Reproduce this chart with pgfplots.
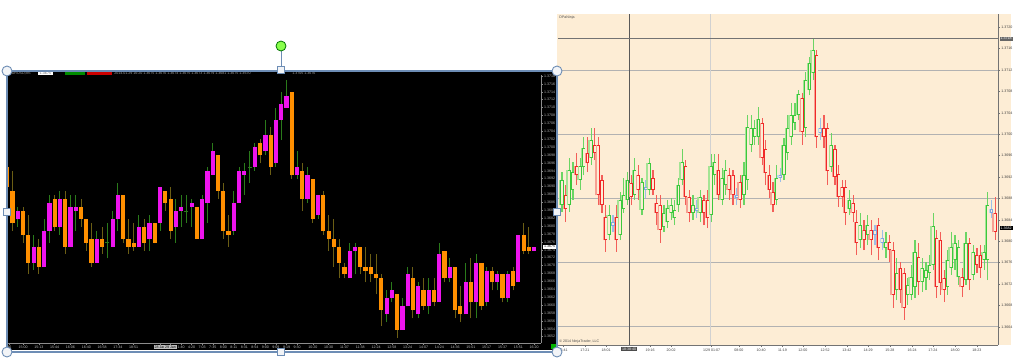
\documentclass[border=0pt]{standalone}
\usepackage{fontspec}
\setmainfont{Liberation Sans}
\usepackage{pgfplots}
\usepackage{pgfplotstable}
\pgfplotsset{compat=1.18}
\definecolor{mtorange}{HTML}{FF8F00}
\definecolor{mtmagenta}{HTML}{EE14EE}
\definecolor{mtwickg}{HTML}{2A7A1A}
\definecolor{mtwicko}{HTML}{6B5E14}
\definecolor{ntcream}{HTML}{FDEDD5}
\definecolor{ntgreen}{HTML}{3CC83C}
\definecolor{ntgreenl}{HTML}{A4E494}
\definecolor{ntred}{HTML}{F02828}
\definecolor{ntredl}{HTML}{F7A092}
\definecolor{ntblue}{HTML}{7FA8E0}
\definecolor{ntbluel}{HTML}{C0D8F2}
\definecolor{hframe}{HTML}{6D8DB5}
\definecolor{hfill}{HTML}{F2F4F7}
\newcommand{\tinyf}{\fontsize{1.8}{2.1}\selectfont}
\pgfplotsset{
  candle/.style={draw=none, mark=none, forget plot,
    error bars/.cd, y dir=plus, y explicit, error mark=none,
    error bar style={line width=#1}},
}

\pgfplotstableread{
i t o h l c
1 -1 1.369504 1.369598 1.368914 1.368982
2 -1 1.368896 1.369403 1.367884 1.368071
3 1 1.368180 1.368484 1.367985 1.368390
4 -1 1.368390 1.368491 1.367580 1.367775
5 -1 1.367782 1.368281 1.366787 1.367074
6 1 1.367074 1.367775 1.366889 1.367479
7 -1 1.367479 1.367674 1.366787 1.366972
8 1 1.366972 1.368180 1.366972 1.367876
9 1 1.367876 1.368787 1.367572 1.368592
10 -1 1.368694 1.368787 1.367876 1.367977
11 1 1.367977 1.368889 1.367775 1.368694
12 -1 1.368694 1.368889 1.367294 1.367479
13 1 1.367479 1.368787 1.367479 1.368491
14 1 1.368390 1.368787 1.367884 1.368491
15 -1 1.368491 1.368686 1.367985 1.368180
16 -1 1.368180 1.368180 1.367377 1.367580
17 -1 1.367681 1.368079 1.366972 1.367074
18 1 1.367074 1.367876 1.367074 1.367681
19 -1 1.367681 1.367977 1.367294 1.367479
20 0 1.367580 1.368079 1.367185 1.367580
21 1 1.367479 1.368390 1.367479 1.368180
22 1 1.368180 1.369091 1.367884 1.368787
23 -1 1.368787 1.368787 1.367580 1.367681
24 -1 1.367681 1.368180 1.367294 1.367479
25 -1 1.367580 1.368079 1.367377 1.367479
26 1 1.367479 1.368281 1.367479 1.367977
27 -1 1.367985 1.368180 1.367370 1.367580
28 1 1.367681 1.368281 1.367370 1.368079
29 -1 1.368079 1.368079 1.367565 1.367580
30 1 1.368079 1.368990 1.367876 1.368990
31 -1 1.368889 1.368889 1.368382 1.368585
32 -1 1.368686 1.368990 1.367681 1.367876
33 1 1.367985 1.368686 1.367580 1.368382
34 1 1.368382 1.368787 1.367985 1.368484
35 0 1.368382 1.368787 1.368079 1.368382
36 1 1.368484 1.368686 1.367985 1.368585
37 -1 1.368484 1.368484 1.367681 1.367681
38 1 1.367681 1.368787 1.367681 1.368686
39 1 1.368585 1.369496 1.368079 1.369395
40 1 1.369294 1.370096 1.369294 1.369894
41 -1 1.369792 1.369792 1.368686 1.368889
42 -1 1.368889 1.369091 1.367681 1.367876
43 -1 1.367876 1.368281 1.367479 1.367775
44 1 1.367876 1.368889 1.367775 1.368585
45 1 1.368585 1.369496 1.368585 1.369395
46 1 1.369294 1.369590 1.368787 1.369395
47 0 1.369496 1.369894 1.369091 1.369496
48 1 1.369496 1.370096 1.369395 1.369995
49 -1 1.370096 1.370198 1.369590 1.369792
50 1 1.369894 1.370694 1.369792 1.370299
51 -1 1.370299 1.370501 1.369294 1.369496
52 1 1.369590 1.370997 1.369504 1.370694
53 1 1.370686 1.371387 1.370180 1.371084
54 1 1.370997 1.371686 1.370997 1.371294
55 -1 1.371395 1.371395 1.369192 1.369286
56 1 1.369286 1.369894 1.369192 1.369496
57 -1 1.369395 1.369590 1.368382 1.368686
58 1 1.368686 1.369496 1.368585 1.369286
59 -1 1.369192 1.369192 1.368079 1.368180
60 1 1.368281 1.368787 1.368180 1.368787
61 -1 1.368787 1.368889 1.367775 1.367876
62 -1 1.367876 1.368281 1.367377 1.367681
63 -1 1.367681 1.368180 1.366972 1.367479
64 -1 1.367479 1.367681 1.366679 1.367074
65 -1 1.366972 1.367074 1.366679 1.366780
66 1 1.366679 1.367580 1.366679 1.367377
67 1 1.367377 1.367580 1.366780 1.367479
68 -1 1.367479 1.367479 1.366780 1.366972
69 -1 1.366972 1.367479 1.366577 1.366871
70 -1 1.366972 1.367286 1.366577 1.366780
71 -1 1.366780 1.367286 1.366274 1.366679
72 -1 1.366679 1.366780 1.365471 1.365876
73 1 1.365767 1.366375 1.365565 1.366172
74 1 1.366172 1.366577 1.366071 1.366375
75 -1 1.366274 1.366274 1.365167 1.365370
76 1 1.365370 1.366172 1.365370 1.365970
77 1 1.365970 1.366972 1.365970 1.366780
78 -1 1.366679 1.366972 1.365666 1.365876
79 1 1.365767 1.366577 1.365666 1.366476
80 -1 1.366375 1.366679 1.365876 1.365970
81 1 1.365970 1.366679 1.365767 1.366375
82 -1 1.366375 1.366679 1.365970 1.366071
83 1 1.366071 1.367580 1.366071 1.367286
84 -1 1.367377 1.367377 1.366577 1.366679
85 1 1.366679 1.367185 1.366577 1.366972
86 -1 1.366972 1.366972 1.365666 1.365876
87 -1 1.365970 1.366476 1.365565 1.365767
88 1 1.365767 1.367074 1.365767 1.366577
89 -1 1.366577 1.367185 1.365666 1.366071
90 1 1.366071 1.367286 1.365666 1.367074
91 -1 1.367074 1.367074 1.365876 1.365970
92 1 1.366071 1.366972 1.365970 1.366871
93 -1 1.366871 1.366972 1.366375 1.366577
94 1 1.366577 1.366871 1.366375 1.366780
95 -1 1.366780 1.366780 1.366071 1.366172
96 1 1.366172 1.366871 1.366071 1.366780
97 -1 1.366871 1.366972 1.366375 1.366476
98 1 1.366577 1.367782 1.366577 1.367782
99 -1 1.367782 1.368079 1.367286 1.367377
100 -1 1.367479 1.367985 1.367286 1.367377
101 1 1.367377 1.367479 1.367377 1.367479
}\leftdata

\pgfplotstableread{
n t o h l c
1 1 1.368678 1.369295 1.368547 1.369145
2 -1 1.368865 1.369052 1.368360 1.368603
3 1 1.368678 1.369557 1.368547 1.369332
4 1 1.368959 1.369482 1.368772 1.369295
5 -1 1.369407 1.369650 1.369052 1.369239
6 1 1.369145 1.369557 1.368959 1.369407
7 1 1.369388 1.369949 1.369239 1.369744
8 -1 1.369650 1.369949 1.369295 1.369463
9 1 1.369557 1.370117 1.369426 1.369893
10 -1 1.369800 1.370117 1.369519 1.369650
11 -1 1.369800 1.369949 1.368678 1.368865
12 -1 1.369145 1.369239 1.368529 1.368678
13 -1 1.368454 1.368678 1.367800 1.368024
14 1 1.368117 1.368678 1.368024 1.368491
15 0 1.368286 1.368491 1.368173 1.368360
16 -1 1.368454 1.368678 1.367800 1.368024
17 1 1.368117 1.368921 1.368024 1.368772
18 1 1.368603 1.369183 1.368529 1.368865
19 1 1.368772 1.369295 1.368678 1.369145
20 -1 1.369089 1.369239 1.368678 1.368828
21 1 1.368865 1.369557 1.368772 1.369332
22 -1 1.369239 1.369426 1.368772 1.368959
23 1 1.368585 1.369183 1.368491 1.369108
24 0 1.368959 1.369145 1.368809 1.369015
25 1 1.368959 1.369557 1.368865 1.369463
26 -1 1.369183 1.369332 1.368865 1.368959
27 -1 1.368716 1.368865 1.368304 1.368529
28 -1 1.368678 1.368865 1.367968 1.368211
29 1 1.368267 1.368678 1.368173 1.368529
30 1 1.368360 1.368772 1.368248 1.368622
31 1 1.368529 1.368809 1.368398 1.368678
32 1 1.368435 1.368772 1.368304 1.368585
33 1 1.368678 1.369183 1.368547 1.369052
34 1 1.369145 1.369725 1.369052 1.369482
35 -1 1.369407 1.369519 1.368678 1.368828
36 -1 1.368828 1.368959 1.368360 1.368529
37 1 1.368529 1.368865 1.368398 1.368678
38 0 1.368566 1.368772 1.368435 1.368622
39 1 1.368529 1.368959 1.368360 1.368828
40 -1 1.368772 1.368865 1.368304 1.368529
41 -1 1.368772 1.368959 1.368248 1.368435
42 1 1.368491 1.369631 1.368360 1.369407
43 1 1.369239 1.369631 1.369052 1.369482
44 -1 1.369332 1.369631 1.368772 1.368865
45 1 1.368772 1.369370 1.368678 1.369183
46 1 1.369052 1.369519 1.368865 1.369332
47 -1 1.369239 1.369370 1.368772 1.368959
48 -1 1.369239 1.369332 1.368678 1.368865
49 0 1.368809 1.368996 1.368678 1.368865
50 -1 1.369108 1.369239 1.368622 1.368772
51 1 1.368865 1.369482 1.368678 1.369239
52 1 1.369145 1.370360 1.368959 1.370136
53 1 1.369800 1.370360 1.369669 1.370117
54 1 1.369949 1.370267 1.369800 1.370117
55 1 1.369949 1.370510 1.369800 1.370286
56 -1 1.370211 1.370304 1.369426 1.369557
57 -1 1.369725 1.369893 1.369052 1.369276
58 -1 1.369239 1.369426 1.368809 1.368959
59 -1 1.368921 1.369108 1.368547 1.368678
60 1 1.368772 1.369426 1.368678 1.369183
61 0 1.369183 1.369370 1.369108 1.369239
62 1 1.369239 1.369931 1.369145 1.369800
63 1 1.369650 1.370360 1.369519 1.370117
64 1 1.369949 1.370585 1.369800 1.370360
65 1 1.370211 1.370585 1.370080 1.370360
66 1 1.370360 1.370828 1.370267 1.370753
67 -1 1.370678 1.370772 1.369800 1.370043
68 1 1.370117 1.371164 1.369949 1.371015
69 1 1.370828 1.371445 1.370734 1.371332
70 1 1.371146 1.371790 1.371015 1.371575
71 -1 1.371482 1.371575 1.369744 1.369949
72 0 1.370117 1.370304 1.369893 1.370024
73 -1 1.370117 1.370360 1.369744 1.369949
74 -1 1.370117 1.370211 1.369052 1.369314
75 1 1.369388 1.370024 1.369295 1.369800
76 -1 1.369725 1.369800 1.369052 1.369202
77 -1 1.369258 1.369426 1.368641 1.368828
78 -1 1.369015 1.369145 1.368641 1.368828
79 -1 1.369015 1.369145 1.368304 1.368529
80 1 1.368603 1.368959 1.368491 1.368772
81 -1 1.368716 1.368865 1.368360 1.368529
82 -1 1.368360 1.368585 1.367743 1.367968
83 1 1.368024 1.368529 1.367874 1.368304
84 -1 1.368211 1.368398 1.367837 1.368024
85 1 1.368117 1.368491 1.367930 1.368304
86 -1 1.368211 1.368398 1.367743 1.368024
87 0 1.368211 1.368304 1.367930 1.368117
88 -1 1.368304 1.368435 1.367650 1.367874
89 0 1.368061 1.368211 1.367837 1.367968
90 1 1.367874 1.368173 1.367687 1.367986
91 -1 1.367986 1.368117 1.367613 1.367837
92 -1 1.367837 1.367986 1.366753 1.366996
93 1 1.367089 1.367687 1.366902 1.367407
94 -1 1.367500 1.367613 1.366846 1.367089
95 -1 1.367407 1.367500 1.366529 1.366753
96 1 1.366996 1.367314 1.366809 1.367183
97 1 1.366996 1.367557 1.366902 1.367332
98 1 1.367145 1.368024 1.366940 1.367800
99 -1 1.367706 1.367968 1.366996 1.367239
100 1 1.367239 1.367687 1.367052 1.367500
101 1 1.367314 1.367613 1.367089 1.367463
102 1 1.367407 1.367743 1.367276 1.367557
103 1 1.367557 1.368529 1.367463 1.368286
104 -1 1.368061 1.368211 1.366940 1.367145
105 -1 1.368024 1.368173 1.366996 1.367220
106 -1 1.367314 1.367463 1.366865 1.367089
107 1 1.367145 1.367837 1.366996 1.367650
108 1 1.367500 1.368173 1.367370 1.367893
109 1 1.367650 1.368117 1.367463 1.367968
110 1 1.367332 1.368024 1.367183 1.367893
111 -1 1.367332 1.367500 1.366958 1.367145
112 1 1.367276 1.368173 1.367183 1.367968
113 -1 1.367968 1.368061 1.367089 1.367276
114 1 1.367370 1.367930 1.367276 1.367800
115 -1 1.367743 1.367874 1.367407 1.367557
116 -1 1.367743 1.367930 1.367314 1.367500
117 1 1.367650 1.367930 1.367463 1.367800
118 1 1.367650 1.368921 1.367276 1.368678
119 0 1.368529 1.368772 1.368435 1.368603
120 -1 1.368529 1.368828 1.368024 1.368173
}\rightdata

\begin{document}
\begin{tikzpicture}
\useasboundingbox (0,0) rectangle (508.5pt,180.5pt);
\fill[white] (0,0) rectangle (508.5pt,180.5pt);
\begin{scope}[x=0.5pt,y=-0.5pt,shift={(0pt,180.5pt)}]
\fill[black] (7,71) rectangle (556.5,350);
\fill[ntcream] (557,14) rectangle (1011,345);
\end{scope}

% ---------------- left chart ----------------
\begin{axis}[
  at={(3.5pt,9pt)}, anchor=south west, scale only axis,
  width=267pt, height=134pt,
  xmin=0.95, xmax=102.3, ymin=1.365041, ymax=1.371825,
  axis x line*=bottom, axis y line*=right,
  axis line style={draw=black!45, line width=0.3pt},
  tick style={draw=black!45, line width=0.25pt},
  major tick length=0.8pt, tick align=outside,
  scaled y ticks=false,
  ytick={1.3652,1.3654,1.3656,1.3658,1.3660,1.3662,1.3664,1.3666,1.3668,1.3670,1.3672,1.3674,1.3676,1.3678,1.3680,1.3682,1.3684,1.3686,1.3688,1.3690,1.3692,1.3694,1.3696,1.3698,1.3700,1.3702,1.3704,1.3706,1.3708,1.3710,1.3712,1.3714,1.3716,1.3718},
  yticklabel={\pgfmathprintnumber[fixed,fixed zerofill,precision=4,assume math mode=true]{\tick}},
  yticklabel style={font=\tinyf, text=black!30, anchor=west, inner sep=0.5pt},
  xtick={1.4,4,7,10,13,16,19,22,25,34,36,38,40,42,44,46,48,50,52,54,56,59,62,65,68,71,74,77,80,83,86,89,92,95,98,101},
  xticklabels={46,15:00,15:13,15:44,16:06,16:40,16:58,17:34,18:51,1:40,4:20,7:03,7:35,8:00,8:11,8:31,8:54,9:00,9:09,9:19,9:30,10:20,10:30,11:07,11:38,12:24,12:58,13:24,14:07,14:24,14:36,15:01,15:17,15:37,15:51,16:20},
  xticklabel style={font=\tinyf, text=black!25, inner sep=0.6pt},
  extra x ticks={30,32}, extra x tick labels={28 Jan,29 Jan},
  extra x tick style={xticklabel style={fill=black!25, text=black, inner sep=0.4pt}},
]
\addplot[candle=0.5pt, error bar style={draw=mtwickg}]
  table[x=i, y expr={\thisrow{t}>-0.5 ? \thisrow{l} : nan}, y error expr={\thisrow{h}-\thisrow{l}}] {\leftdata};
\addplot[candle=0.5pt, error bar style={draw=mtwicko}]
  table[x=i, y expr={\thisrow{t}<-0.5 ? \thisrow{l} : nan}, y error expr={\thisrow{h}-\thisrow{l}}] {\leftdata};
\addplot[candle=2.1pt, error bar style={draw=mtmagenta}]
  table[x=i, y expr={\thisrow{t}>0.5 ? \thisrow{o} : nan}, y error expr={\thisrow{c}-\thisrow{o}}] {\leftdata};
\addplot[candle=2.1pt, error bar style={draw=mtorange}]
  table[x=i, y expr={\thisrow{t}<-0.5 ? \thisrow{c} : nan}, y error expr={\thisrow{o}-\thisrow{c}}] {\leftdata};
\addplot[only marks, mark=-, mark size=1pt, mark options={line width=0.45pt, draw=mtwickg}, forget plot]
  table[x=i, y expr={abs(\thisrow{t})<0.5 ? \thisrow{o} : nan}] {\leftdata};
\end{axis}

% ---------------- right chart ----------------
\begin{axis}[
  at={(279pt,8pt)}, anchor=south west, scale only axis,
  width=220pt, height=165.5pt,
  xmin=-0.1, xmax=120.8, ymin=1.366061, ymax=1.372249,
  axis x line*=bottom, axis y line*=right,
  axis line style={draw=black!55, line width=0.35pt},
  tick style={draw=black!55, line width=0.25pt},
  major tick length=1pt, tick align=outside,
  scaled y ticks=false,
  ytick={1.3664,1.3668,1.3672,1.3676,1.3680,1.3684,1.3688,1.3692,1.3696,1.3700,1.3704,1.3708,1.3712,1.3716,1.3720},
  yticklabel={\pgfmathprintnumber[fixed,fixed zerofill,precision=4,assume math mode=true]{\tick}},
  yticklabel style={font=\tinyf, text=black!75, anchor=west, inner sep=0.5pt},
  extra y ticks={1.3664,1.3676,1.3688,1.3700,1.3712}, extra y tick labels={},
  extra y tick style={grid=major, major tick length=0pt},
  major grid style={draw=black!30, line width=0.4pt},
  xtick={1.3,7.3,13.1,25.2,31,42.1,49.6,55.7,61.6,67.2,73.3,79.3,85.1,91.1,97.2,102.9,109,115},
  xticklabels={16:41,17:21,18:01,19:16,20:02,1/29 01:07,08:00,10:40,11:19,12:00,12:52,13:42,14:29,15:28,16:24,17:24,18:00,18:23},
  xticklabel style={font=\tinyf, text=black!75, inner sep=0.6pt},
]
\addplot[black!18, line width=0.4pt, forget plot] coordinates {(41.7,1.366061) (41.7,1.372249)};
\addplot[black!65, line width=0.45pt, forget plot] coordinates {(19.4,1.366061) (19.4,1.372249)};
\addplot[black!55, line width=0.6pt, forget plot] coordinates {(-0.1,1.371787) (120.8,1.371787)};
% ghost bodies
\addplot[candle=1.5pt, error bar style={draw=ntgreenl}]
  table[x expr={\thisrow{n}-0.4}, y expr={\thisrow{t}>0.5 ? min(\thisrow{o},\thisrow{c}) : nan}, y error expr={abs(\thisrow{c}-\thisrow{o})}] {\rightdata};
\addplot[candle=1.5pt, error bar style={draw=ntredl}]
  table[x expr={\thisrow{n}-0.4}, y expr={\thisrow{t}<-0.5 ? min(\thisrow{o},\thisrow{c}) : nan}, y error expr={abs(\thisrow{c}-\thisrow{o})}] {\rightdata};
\addplot[candle=1.5pt, error bar style={draw=ntbluel}]
  table[x expr={\thisrow{n}-0.4}, y expr={abs(\thisrow{t})<0.5 ? min(\thisrow{o},\thisrow{c}) : nan}, y error expr={abs(\thisrow{c}-\thisrow{o})}] {\rightdata};
% wicks
\addplot[candle=0.6pt, error bar style={draw=ntgreen!55!ntgreenl}]
  table[x=n, y expr={\thisrow{t}>0.5 ? \thisrow{l} : nan}, y error expr={\thisrow{h}-\thisrow{l}}] {\rightdata};
\addplot[candle=0.6pt, error bar style={draw=ntred!55!ntredl}]
  table[x=n, y expr={\thisrow{t}<-0.5 ? \thisrow{l} : nan}, y error expr={\thisrow{h}-\thisrow{l}}] {\rightdata};
\addplot[candle=0.6pt, error bar style={draw=ntblue!55!ntbluel}]
  table[x=n, y expr={abs(\thisrow{t})<0.5 ? \thisrow{l} : nan}, y error expr={\thisrow{h}-\thisrow{l}}] {\rightdata};
% outlined bodies
\addplot[candle=1.55pt, error bar style={draw=ntgreen}]
  table[x=n, y expr={\thisrow{t}>0.5 ? min(\thisrow{o},\thisrow{c}) : nan}, y error expr={abs(\thisrow{c}-\thisrow{o})}] {\rightdata};
\addplot[candle=1.55pt, error bar style={draw=ntred}]
  table[x=n, y expr={\thisrow{t}<-0.5 ? min(\thisrow{o},\thisrow{c}) : nan}, y error expr={abs(\thisrow{c}-\thisrow{o})}] {\rightdata};
\addplot[candle=1.55pt, error bar style={draw=ntblue}]
  table[x=n, y expr={abs(\thisrow{t})<0.5 ? min(\thisrow{o},\thisrow{c}) : nan}, y error expr={abs(\thisrow{c}-\thisrow{o})}] {\rightdata};
% hollow interiors
\addplot[candle=0.95pt, error bar style={draw=ntcream}]
  table[x=n, y expr={min(\thisrow{o},\thisrow{c})+0.0000112}, y error expr={max(abs(\thisrow{c}-\thisrow{o})-0.0000224,0)}] {\rightdata};
\end{axis}

% ---------------- decorations (pixel coordinates) ----------------
\begin{scope}[x=0.5pt,y=-0.5pt,shift={(0pt,180.5pt)}]
\node[anchor=west, inner sep=0, font=\tinyf, text=black!35] at (9,73.3) {EURUSD,M5};
\fill[white] (38,72) rectangle (53,75);
\node[inner sep=0, font=\tinyf, text=black!60] at (45.5,73.5) {1.3675};
\fill[green!55!black] (65,72) rectangle (85,75);
\fill[red!80!black] (87,72) rectangle (112,75);
\node[anchor=west, inner sep=0, font=\tinyf, text=black!35] at (114,73.3) {2014.01.29 16:20  1.3675  1.3676  1.3674  1.3675  1.3673  1.3679  1.3681  1.3675  1.3670};
\node[anchor=west, inner sep=0, font=\tinyf, text=black!35] at (292,73.3) {1.3705 1.3676};
\node[anchor=west, fill=white, text=black, font=\tinyf, inner sep=0.4pt] at (543,246.7) {1.3675};
\fill[green!70!black] (550.5,343.5) rectangle (555.5,348.5);
\node[anchor=north west, inner sep=0, font=\tinyf, text=black!70] at (559,15.5) {DPaNinja};
\node[anchor=south west, inner sep=0, font=\tinyf, text=black!70] at (559,344) {© 2014 NinjaTrader, LLC};
\node[fill=black!60, text=white, font=\tinyf, inner sep=0.4pt, anchor=west] at (999.5,38.7) {1.3718};
\node[fill=black, text=white, font=\tinyf, inner sep=0.4pt, anchor=west] at (999.5,228.3) {1.3682};
\node[fill=black!70, text=white, font=\tinyf, inner sep=0.4pt] at (629,349.3) {18:38:40};
\draw[hframe, line width=0.6pt] (7,71) rectangle (557,352);
\draw[hframe, line width=0.4pt] (281,51) -- (281,66.5);
\filldraw[fill=green!55!lime!70!white, draw=green!45!black, line width=0.4pt] (281,46) circle[radius=2.5pt];
\foreach \p in {(7,71),(557,71),(7,352),(557,352)}
  \filldraw[fill=hfill, draw=hframe, line width=0.45pt] \p circle[radius=2.5pt];
\filldraw[fill=hfill, draw=hframe, line width=0.45pt] (277.5,66.5) rectangle (284.5,73.5);
\filldraw[fill=hfill, draw=hframe, line width=0.45pt] (3.5,208.5) rectangle (10.5,215.5);
\filldraw[fill=hfill, draw=hframe, line width=0.45pt] (553.5,208.5) rectangle (560.5,215.5);
\filldraw[fill=hfill, draw=hframe, line width=0.45pt] (277.5,348.5) rectangle (284.5,355.5);
\end{scope}
\end{tikzpicture}
\end{document}
